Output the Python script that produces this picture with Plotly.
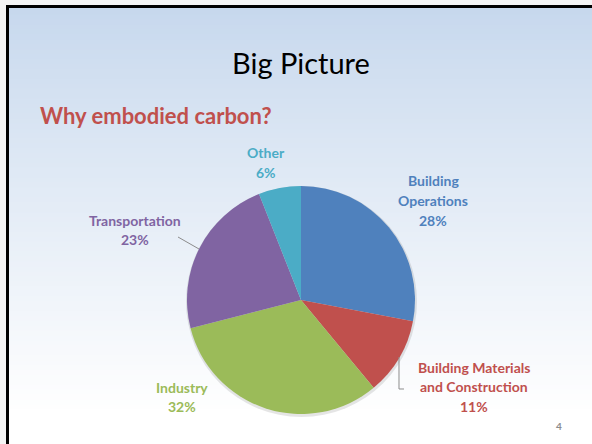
import numpy as np
import plotly.graph_objects as go

# ---- data ----
categories = ["Building Operations", "Building Materials and Construction",
              "Industry", "Transportation", "Other"]
values = [28, 11, 32, 23, 6]
label_lines = [["Building", "Operations"], ["Building Materials", "and Construction"],
               ["Industry"], ["Transportation"], ["Other"]]
colors = ["#4f81bd", "#c0504d", "#9bbb59", "#8064a2", "#4bacc6"]

W, H = 592, 444
FONT = "Lato, Carlito, Calibri, 'Open Sans', sans-serif"

def px(x):
    return x / W

def py(y):
    return 1 - y / H

fig = go.Figure()

# pie: center (301,300), radius 114
fig.add_trace(go.Pie(
    labels=categories, values=values, sort=False, direction="clockwise",
    rotation=0, marker=dict(colors=colors, line=dict(width=0)),
    textinfo="none", hoverinfo="label+percent", showlegend=False,
    domain=dict(x=[px(187), px(415)], y=[py(414), py(186)]),
))

shapes = []
# background gradient bands (each band extends to bottom, so no seams)
n = 90
top = np.array([197, 215, 237])
for i in range(n):
    y0 = i * H / n
    t = min(1.0, (y0 + H / n / 2) / 410)
    t = t ** 0.9
    c = top + (np.array([255, 255, 255]) - top) * t
    shapes.append(dict(type="rect", xref="paper", yref="paper",
                       x0=0, x1=1, y0=0, y1=py(y0),
                       fillcolor="rgb(%d,%d,%d)" % tuple(c.astype(int)),
                       line=dict(width=0), layer="below"))
# outer margin
shapes.append(dict(type="rect", xref="paper", yref="paper", x0=0, x1=px(6), y0=0, y1=1,
                   fillcolor="#f4f4f4", line=dict(width=0), layer="below"))
shapes.append(dict(type="rect", xref="paper", yref="paper", x0=0, x1=1, y0=py(5), y1=1,
                   fillcolor="#f4f4f4", line=dict(width=0), layer="below"))
# pie shadow
shapes.append(dict(type="circle", xref="paper", yref="paper",
                   x0=px(186), x1=px(417), y0=py(417), y1=py(186),
                   fillcolor="rgba(0,0,0,0.10)", line=dict(width=0), layer="below"))
# slide border (top and left)
shapes.append(dict(type="line", xref="paper", yref="paper", x0=px(6), x1=1, y0=py(6.5), y1=py(6.5),
                   line=dict(color="#000000", width=3)))
shapes.append(dict(type="line", xref="paper", yref="paper", x0=px(7.5), x1=px(7.5), y0=0, y1=py(5),
                   line=dict(color="#000000", width=3)))
# leader lines
shapes.append(dict(type="line", xref="paper", yref="paper", x0=px(178), x1=px(199),
                   y0=py(237), y1=py(249), line=dict(color="#8c8c8c", width=1)))
shapes.append(dict(type="path", xref="paper", yref="paper",
                   path="M %f,%f L %f,%f L %f,%f" % (px(399), py(357), px(399), py(389), px(404), py(389)),
                   line=dict(color="#8c8c8c", width=1)))

annotations = []
annotations.append(dict(text="Big Picture", x=px(301), y=py(62), xref="paper", yref="paper",
                        showarrow=False, xanchor="center", yanchor="middle",
                        font=dict(family=FONT, size=29, color="#000000")))
annotations.append(dict(text="<b>Why embodied carbon?</b>", x=px(38), y=py(115), xref="paper",
                        yref="paper", showarrow=False, xanchor="left", yanchor="middle",
                        font=dict(family=FONT, size=22, color="#c0504d")))

# label positions (center x, first line y) in pixels
label_pos = [(433, 181), (474, 367), (182, 387), (135, 220), (266, 153)]
total = sum(values)
for lines, v, c, (lx, ly) in zip(label_lines, values, colors, label_pos):
    all_lines = lines + ["%d%%" % round(100 * v / total)]
    for k, s in enumerate(all_lines):
        annotations.append(dict(text="<b>%s</b>" % s, x=px(lx), y=py(ly + 19.7 * k),
                                xref="paper", yref="paper", showarrow=False,
                                xanchor="center", yanchor="middle",
                                font=dict(family=FONT, size=14, color=c)))

annotations.append(dict(text="<b>4</b>", x=px(559), y=py(426), xref="paper", yref="paper",
                        showarrow=False, xanchor="center", yanchor="middle",
                        font=dict(family=FONT, size=10, color="#8c8c8c")))

fig.update_layout(width=W, height=H, margin=dict(l=0, r=0, t=0, b=0),
                  paper_bgcolor="#ffffff", plot_bgcolor="#ffffff",
                  shapes=shapes, annotations=annotations)

fig.write_html("out.html")
